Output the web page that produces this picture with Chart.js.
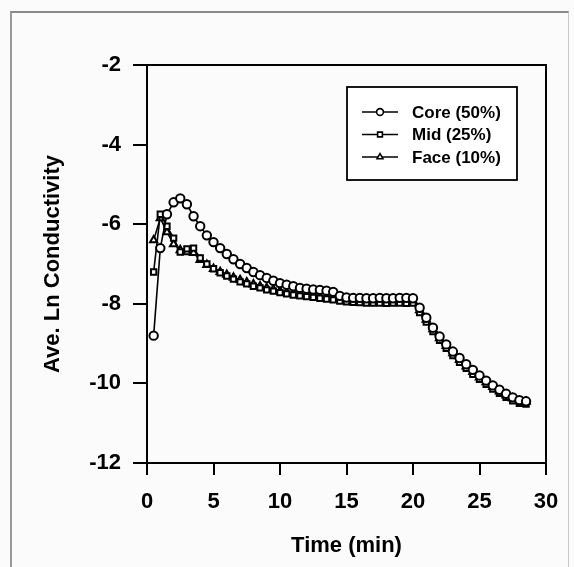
<!DOCTYPE html>
<html>
<head>
<meta charset="utf-8">
<script src="https://cdn.jsdelivr.net/npm/chart.js@4"></script>
<style>
  html, body { margin: 0; padding: 0; background: #fbfbfb; }
  #wrap { position: relative; width: 574px; height: 567px; }
  #frame { position: absolute; left: 10px; top: 11px; width: 556px; height: 560px;
           border-left: 2px solid #9a9a9a; border-top: 2px solid #8a8a8a; border-right: 1px solid #c8c8c8; }
</style>
</head>
<body>
<div id="wrap">
  <div id="frame"></div>
  <canvas id="cond" width="574" height="567"></canvas>
</div>
<script>
// sampling times (min)
const times = [0.5, 1, 1.5, 2, 2.5, 3, 3.5, 4, 4.5, 5, 5.5, 6, 6.5, 7, 7.5, 8, 8.5, 9, 9.5, 10,
  10.5, 11, 11.5, 12, 12.5, 13, 13.5, 14, 14.5, 15, 15.5, 16, 16.5, 17, 17.5, 18, 18.5, 19, 19.5, 20,
  20.5, 21, 21.5, 22, 22.5, 23, 23.5, 24, 24.5, 25, 25.5, 26, 26.5, 27, 27.5, 28, 28.5];

const coreValues = [-8.8, -6.6, -5.75, -5.45, -5.35, -5.5, -5.8, -6.05, -6.28, -6.45, -6.6, -6.75, -6.88, -7.0, -7.1, -7.2, -7.28, -7.35, -7.42, -7.48,
  -7.52, -7.56, -7.6, -7.62, -7.64, -7.65, -7.67, -7.7, -7.8, -7.84, -7.85, -7.85, -7.86, -7.86, -7.85, -7.86, -7.86, -7.85, -7.85, -7.86,
  -8.1, -8.35, -8.6, -8.82, -9.02, -9.2, -9.36, -9.52, -9.66, -9.8, -9.93, -10.05, -10.16, -10.26, -10.35, -10.42, -10.45];

const midValues = [-7.2, -5.75, -6.05, -6.35, -6.7, -6.62, -6.6, -6.85, -7.0, -7.12, -7.22, -7.3, -7.38, -7.45, -7.5, -7.56, -7.6, -7.65, -7.68, -7.72,
  -7.75, -7.78, -7.8, -7.82, -7.84, -7.86, -7.88, -7.9, -7.93, -7.95, -7.96, -7.97, -7.98, -7.98, -7.98, -7.99, -7.98, -7.98, -7.99, -7.98,
  -8.22, -8.46, -8.7, -8.92, -9.12, -9.3, -9.47, -9.62, -9.77, -9.9, -10.02, -10.14, -10.25, -10.35, -10.44, -10.5, -10.52];

const faceValues = [-6.4, -5.85, -6.2, -6.5, -6.65, -6.7, -6.72, -6.9, -7.02, -7.12, -7.2, -7.27, -7.34, -7.4, -7.46, -7.51, -7.56, -7.6, -7.64, -7.68,
  -7.71, -7.74, -7.76, -7.78, -7.8, -7.82, -7.84, -7.86, -7.89, -7.91, -7.92, -7.92, -7.93, -7.93, -7.93, -7.94, -7.93, -7.93, -7.94, -7.93,
  -8.16, -8.4, -8.64, -8.86, -9.06, -9.24, -9.41, -9.57, -9.71, -9.85, -9.97, -10.09, -10.2, -10.3, -10.38, -10.44, -10.46];

const seriesLabels = ['Core (50%)', 'Mid (25%)', 'Face (10%)'];
const markerStyles = ['circle', 'rect', 'triangle'];
const xTicks = [0, 5, 10, 15, 20, 25, 30];
const yTicks = [-12, -10, -8, -6, -4, -2];

const FONT = 'Liberation Sans, Arial, sans-serif';

function series(values, i) {
  return {
    label: seriesLabels[i],
    data: values.map((v, k) => ({ x: times[k], y: v })),
    borderColor: '#000',
    borderWidth: 1.6,
    pointStyle: markerStyles[i],
    pointRadius: i === 1 ? 3.8 : 4.2,
    pointBorderWidth: 2,
    pointBorderColor: '#000',
    pointBackgroundColor: '#fff',
    tension: 0,
    fill: false
  };
}

// boxed legend with line + marker samples, plus the box round the plot
const boxLegend = {
  id: 'boxLegend',
  afterDatasetsDraw(chart) {
    const { ctx, chartArea: a } = chart;
    ctx.save();
    ctx.strokeStyle = '#000';
    ctx.lineWidth = 2;
    ctx.strokeRect(a.left, a.top, a.right - a.left, a.bottom - a.top);

    const bx = a.left + 200, by = a.top + 22, bw = 170, bh = 93;
    ctx.fillStyle = '#fff';
    ctx.fillRect(bx, by, bw, bh);
    ctx.lineWidth = 1.8;
    ctx.strokeRect(bx, by, bw, bh);

    chart.data.datasets.forEach((ds, i) => {
      const y = by + 25 + i * 22.5;
      ctx.lineWidth = 1.4;
      ctx.beginPath();
      ctx.moveTo(bx + 15, y);
      ctx.lineTo(bx + 51, y);
      ctx.stroke();
      ctx.fillStyle = '#fff';
      ctx.lineWidth = 1.6;
      Chart.helpers.drawPoint(ctx, { pointStyle: ds.pointStyle, radius: 3.4, borderWidth: 1.6 }, bx + 33, y);
      ctx.fillStyle = '#000';
      ctx.font = 'bold 17px ' + FONT;
      ctx.textBaseline = 'middle';
      ctx.fillText(ds.label, bx + 65, y + 1);
    });
    ctx.restore();
  }
};

const ctx = document.getElementById('cond');
const condChart = new Chart(ctx, {
  type: 'line',
  data: {
    datasets: [series(coreValues, 0), series(midValues, 1), series(faceValues, 2)]
  },
  plugins: [boxLegend],
  options: {
    responsive: false,
    animation: false,
    layout: { padding: { left: 36, top: 65, right: 28, bottom: 4 } },
    plugins: {
      legend: { display: false },
      tooltip: { enabled: false }
    },
    scales: {
      x: {
        type: 'linear',
        min: 0,
        max: 30,
        afterFit: s => { s.height = 100; },
        afterBuildTicks: s => { s.ticks = xTicks.map(v => ({ value: v })); },
        border: { display: true, color: '#000', width: 2 },
        grid: { display: true, drawOnChartArea: false, drawTicks: true, tickLength: 12, color: '#000', lineWidth: 2 },
        ticks: { color: '#000', padding: 14, maxRotation: 0, font: { family: FONT, size: 22, weight: 'bold' } },
        title: { display: true, text: 'Time (min)', color: '#000', padding: { top: 4, bottom: 4 },
                 font: { family: FONT, size: 22, weight: 'bold' } }
      },
      y: {
        type: 'linear',
        min: -12,
        max: -2,
        afterFit: s => { s.width = 111; },
        afterBuildTicks: s => { s.ticks = yTicks.map(v => ({ value: v })); },
        border: { display: true, color: '#000', width: 2 },
        grid: { display: true, drawOnChartArea: false, drawTicks: true, tickLength: 14, color: '#000', lineWidth: 2 },
        ticks: { color: '#000', padding: 12, font: { family: FONT, size: 22, weight: 'bold' } },
        title: { display: true, text: 'Ave. Ln Conductivity', color: '#000', padding: { top: 4, bottom: 4 },
                 font: { family: FONT, size: 22, weight: 'bold' } }
      }
    }
  }
});
</script>
</body>
</html>
